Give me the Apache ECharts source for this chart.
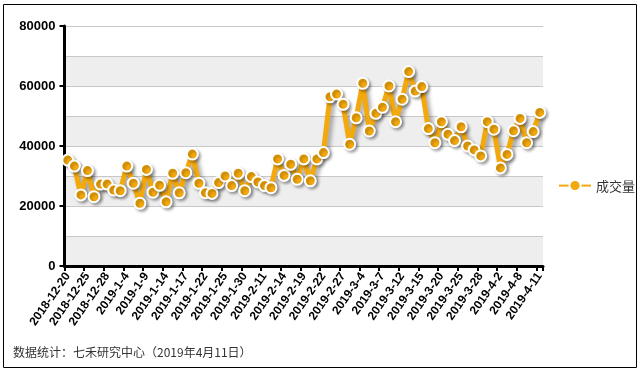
<!DOCTYPE html>
<html>
<head>
<meta charset="utf-8">
<script src="https://cdn.jsdelivr.net/npm/echarts@6/dist/echarts.min.js"></script>
<style>
html,body{margin:0;padding:0;background:#fff;}
#chart{width:641px;height:373px;}
</style>
</head>
<body>
<div id="chart"></div>
<script>
var categories = ['2018-12-20','2018-12-21','2018-12-24','2018-12-25','2018-12-26','2018-12-27','2018-12-28',
'2019-1-2','2019-1-3','2019-1-4','2019-1-7','2019-1-8','2019-1-9','2019-1-10','2019-1-11','2019-1-14','2019-1-15','2019-1-16','2019-1-17','2019-1-18','2019-1-21','2019-1-22','2019-1-23','2019-1-24','2019-1-25','2019-1-28','2019-1-29','2019-1-30','2019-1-31',
'2019-2-1','2019-2-11','2019-2-12','2019-2-13','2019-2-14','2019-2-15','2019-2-18','2019-2-19','2019-2-20','2019-2-21','2019-2-22','2019-2-25','2019-2-26','2019-2-27','2019-2-28',
'2019-3-1','2019-3-4','2019-3-5','2019-3-6','2019-3-7','2019-3-8','2019-3-11','2019-3-12','2019-3-13','2019-3-14','2019-3-15','2019-3-18','2019-3-19','2019-3-20','2019-3-21','2019-3-22','2019-3-25','2019-3-26','2019-3-27','2019-3-28','2019-3-29',
'2019-4-1','2019-4-2','2019-4-3','2019-4-4','2019-4-8','2019-4-9','2019-4-10','2019-4-11'];

var volume = [35300,33300,23700,31800,23100,27300,27300,25300,25100,33300,27600,20900,32200,24600,26900,21400,30900,24400,31100,37300,
27600,24400,24200,27800,30000,26800,30900,25100,29800,28000,26800,26100,35700,30200,33900,28900,35700,28400,35700,37800,
56400,57300,53900,40600,49400,60900,45000,50900,52900,60000,48100,55600,64800,58300,59800,45800,41100,48100,43900,41800,
46400,40000,38700,36700,48100,45600,32700,37200,45100,49200,41100,44800,51200];

var yTicks = [0,20000,40000,60000,80000];
var seriesName = '成交量';
var sourceText = '数据统计：七禾研究中心（2019年4月11日）';

var chart = echarts.init(document.getElementById('chart'), null, {renderer:'canvas'});
var orange = '#f3a80c';
var font = 'Liberation Sans';

chart.setOption({
  animation:false,
  backgroundColor:'#fff',
  grid:{left:64.5, right:98, top:26, bottom:107},
  legend:{
    data:[seriesName], left:553, top:174, itemWidth:32, itemHeight:14, itemGap:6,
    textStyle:{fontSize:13, color:'#333', fontFamily:'Noto Sans CJK SC'}
  },
  xAxis:{
    type:'category', data:categories, boundaryGap:true,
    axisLine:{show:true, lineStyle:{color:'#000', width:3}},
    axisTick:{show:true, interval:2, length:5, lineStyle:{color:'#000', width:2}},
    axisLabel:{interval:2, rotate:55, margin:8, color:'#000', fontSize:12, fontWeight:'bold', fontFamily:font},
    splitLine:{show:false}
  },
  yAxis:[
    {type:'value', min:0, max:yTicks[yTicks.length-1], interval:10000,
     axisLine:{show:false}, axisTick:{show:false}, axisLabel:{show:false},
     splitLine:{show:true, lineStyle:{color:'#c8c8c8', width:1}},
     splitArea:{show:true, areaStyle:{color:['#eeeeee','#ffffff']}}},
    {type:'value', position:'left', min:yTicks[0], max:yTicks[yTicks.length-1], interval:yTicks[1]-yTicks[0],
     axisLine:{show:true, lineStyle:{color:'#000', width:3}},
     axisTick:{show:true, length:5, lineStyle:{color:'#000', width:2}},
     axisLabel:{margin:9, color:'#000', fontSize:13, fontWeight:'bold', fontFamily:font, formatter:function(v){return String(v);}},
     splitLine:{show:false}}
  ],
  series:[{
    name:seriesName, type:'line', yAxisIndex:1, data:volume,
    symbol:'circle', symbolSize:11, showSymbol:true, showAllSymbol:true,
    lineStyle:{color:orange, width:5, shadowColor:'rgba(0,0,0,0.35)', shadowBlur:4, shadowOffsetX:3, shadowOffsetY:3},
    itemStyle:{color:orange, borderColor:'#fff', borderWidth:2, shadowColor:'rgba(0,0,0,0.3)', shadowBlur:3, shadowOffsetX:2, shadowOffsetY:2}
  }],
  graphic:[
    {type:'rect', shape:{x:3.5, y:4.5, width:633, height:363}, style:{fill:null, stroke:'#000', lineWidth:1}, silent:true},
    {type:'text', left:13, top:346, style:{text:sourceText, fontSize:12, fill:'#333', fontFamily:'Noto Sans CJK SC'}}
  ]
});
</script>
</body>
</html>
